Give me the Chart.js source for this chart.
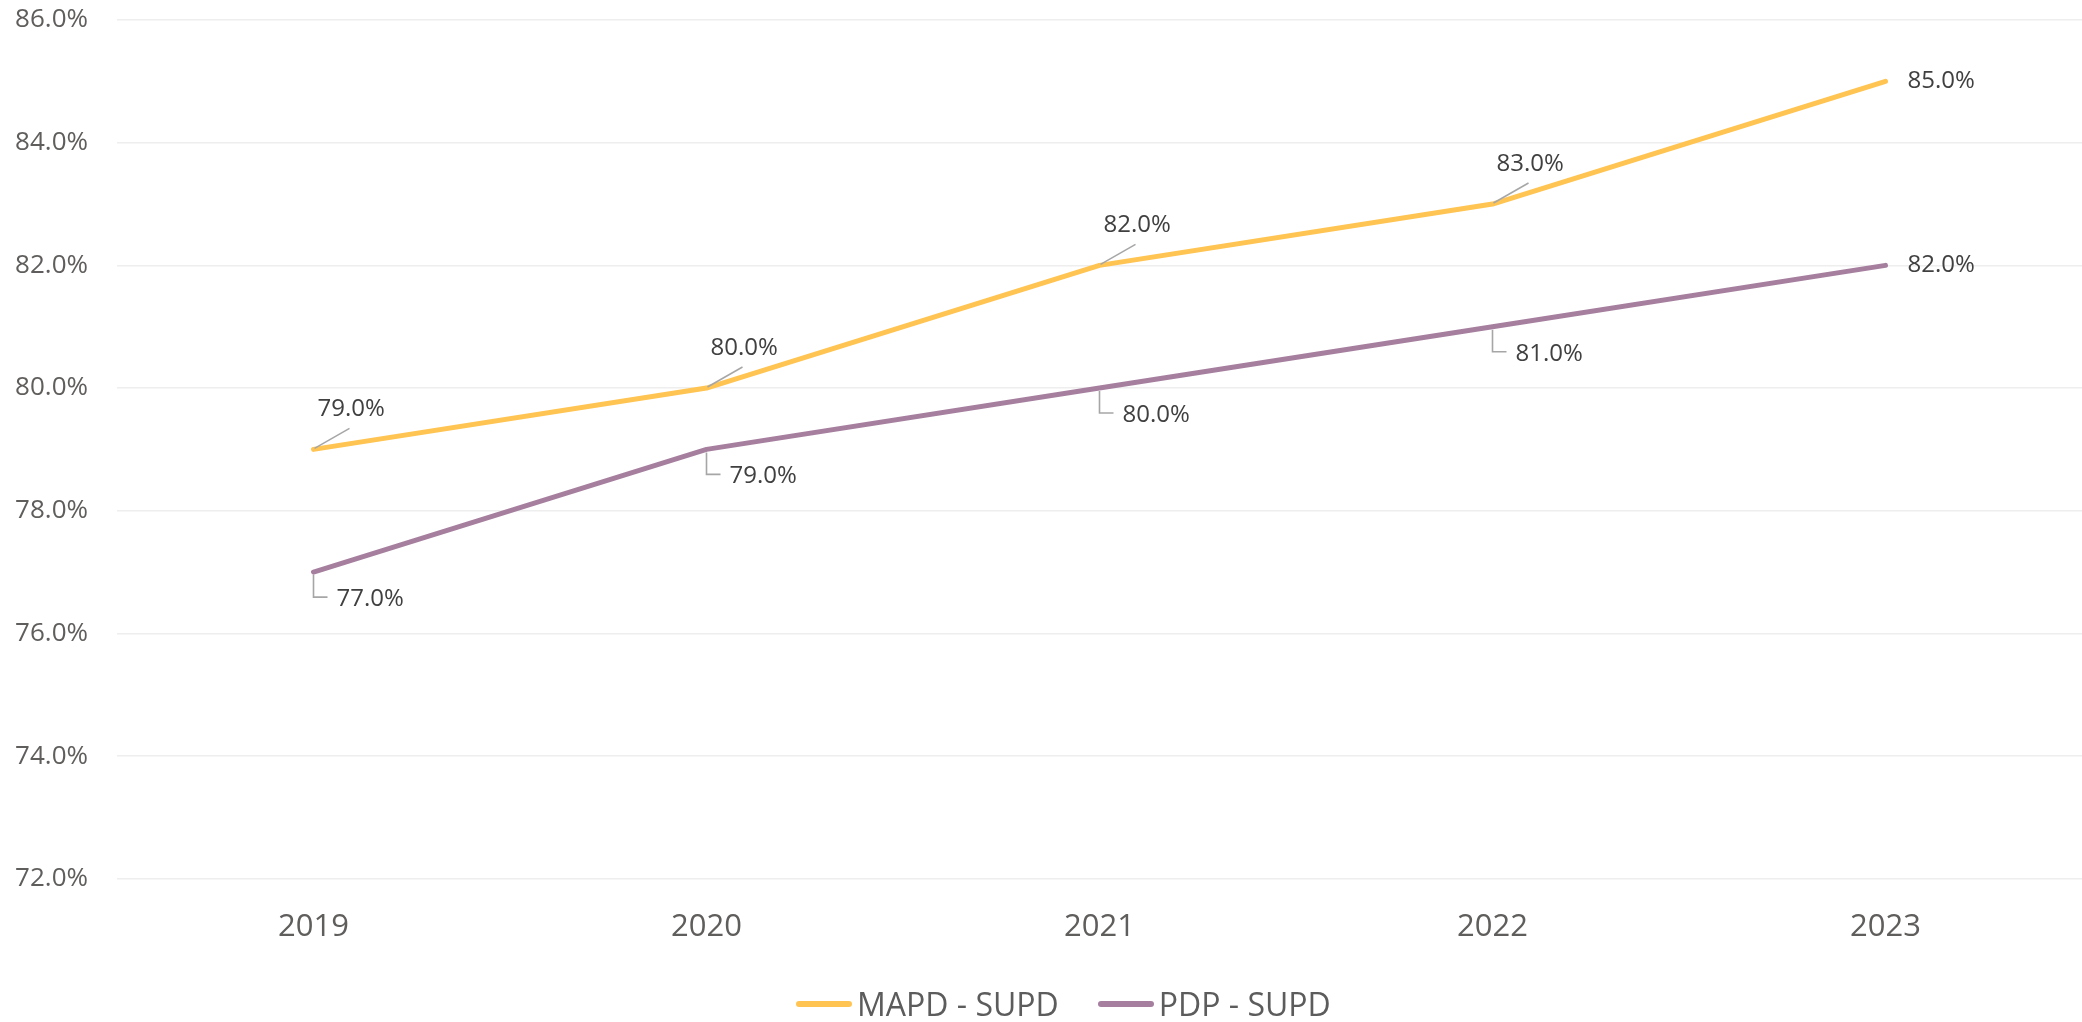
<!DOCTYPE html>
<html>
<head>
<meta charset="utf-8">
<script src="https://cdn.jsdelivr.net/npm/chart.js@4.4.0/dist/chart.umd.min.js"></script>
<style>
  html, body { margin: 0; padding: 0; background: #ffffff; }
  #wrap { position: relative; width: 2082px; height: 1022px; overflow: hidden; }
  #legend { position: absolute; left: 796px; top: 986px; height: 36px; display: flex; align-items: center; font-family: 'Open Sans', sans-serif; font-size: 32px; color: #5c5c5c; line-height: 36px; white-space: nowrap; }
  .item { display: flex; align-items: center; margin-right: 39px; }
  .swatch { width: 56px; height: 6px; border-radius: 3px; margin-right: 5px; }
</style>
</head>
<body>
<div id="wrap">
  <canvas id="c" width="2082" height="1022"></canvas>
  <div id="legend"></div>
</div>
<script>
// ---- Data ----
const years = ['2019', '2020', '2021', '2022', '2023'];
const mapdSupd = [79.0, 80.0, 82.0, 83.0, 85.0];
const pdpSupd = [77.0, 79.0, 80.0, 81.0, 82.0];
const seriesNames = ['MAPD - SUPD', 'PDP - SUPD'];
const yTickValues = [72, 74, 76, 78, 80, 82, 84, 86];

// ---- Styles ----
const colors = ['#FFC452', '#A67F9F'];
const labelSides = ['above', 'below'];

const leaderLabels = {
  id: 'leaderLabels',
  afterDatasetsDraw(chart) {
    const ctx = chart.ctx;
    ctx.save();
    ctx.font = '24px "Open Sans"';
    ctx.textBaseline = 'middle';
    ctx.textAlign = 'left';
    chart.data.datasets.forEach((ds, di) => {
      const meta = chart.getDatasetMeta(di);
      const side = labelSides[di];
      meta.data.forEach((pt, i) => {
        const px = pt.x, py = pt.y;
        const txt = ds.data[i].toFixed(1) + '%';
        const last = i === meta.data.length - 1;
        ctx.strokeStyle = '#A6A6A6';
        ctx.lineWidth = 1.6;
        ctx.fillStyle = '#404040';
        if (last) {
          ctx.fillText(txt, px + 22, py);
          return;
        }
        if (side === 'above') {
          ctx.beginPath();
          ctx.moveTo(px + 1, py - 1);
          ctx.lineTo(px + 36, py - 21);
          ctx.stroke();
          ctx.fillText(txt, px + 4, py - 40);
        } else {
          ctx.beginPath();
          ctx.moveTo(px, py + 3);
          ctx.lineTo(px, py + 25);
          ctx.lineTo(px + 14, py + 25);
          ctx.stroke();
          ctx.fillText(txt, px + 23, py + 27);
        }
      });
    });
    ctx.restore();
  }
};

Chart.defaults.font.family = '"Open Sans", sans-serif';

const chart = new Chart(document.getElementById('c'), {
  type: 'line',
  data: {
    labels: years,
    datasets: [
      { label: seriesNames[0], data: mapdSupd, borderColor: colors[0], backgroundColor: colors[0] },
      { label: seriesNames[1], data: pdpSupd, borderColor: colors[1], backgroundColor: colors[1] }
    ].map(d => Object.assign(d, { borderWidth: 5, pointRadius: 0, pointHoverRadius: 0, tension: 0, borderCapStyle: 'round', borderJoinStyle: 'round', fill: false }))
  },
  options: {
    responsive: false,
    devicePixelRatio: 1,
    animation: false,
    events: [],
    layout: { padding: { top: 20, right: 0, bottom: 46, left: 0 } },
    plugins: { legend: { display: false }, tooltip: { enabled: false } },
    scales: {
      x: {
        offset: true,
        grid: { display: false, drawTicks: false },
        border: { display: false },
        ticks: { color: '#605E5C', font: { size: 31 }, padding: 30, maxRotation: 0 }
      },
      y: {
        min: yTickValues[0],
        max: yTickValues[yTickValues.length - 1],
        afterBuildTicks: (s) => { s.ticks = yTickValues.map(v => ({ value: v })); },
        afterFit: (s) => { s.width = 117; s.paddingTop = 0; s.paddingBottom = 0; },
        grid: { color: '#EEEEEE', lineWidth: 1.5, drawTicks: false },
        border: { display: false },
        ticks: { color: '#605E5C', font: { size: 26 }, padding: 29, callback: (v) => Number(v).toFixed(1) + '%' }
      }
    }
  },
  plugins: [leaderLabels]
});

// HTML legend from dataset names/colors
const legend = document.getElementById('legend');
seriesNames.forEach((name, i) => {
  const item = document.createElement('div');
  item.className = 'item';
  const sw = document.createElement('span');
  sw.className = 'swatch';
  sw.style.background = colors[i];
  const t = document.createElement('span');
  t.textContent = name;
  item.appendChild(sw);
  item.appendChild(t);
  legend.appendChild(item);
});
</script>
</body>
</html>
